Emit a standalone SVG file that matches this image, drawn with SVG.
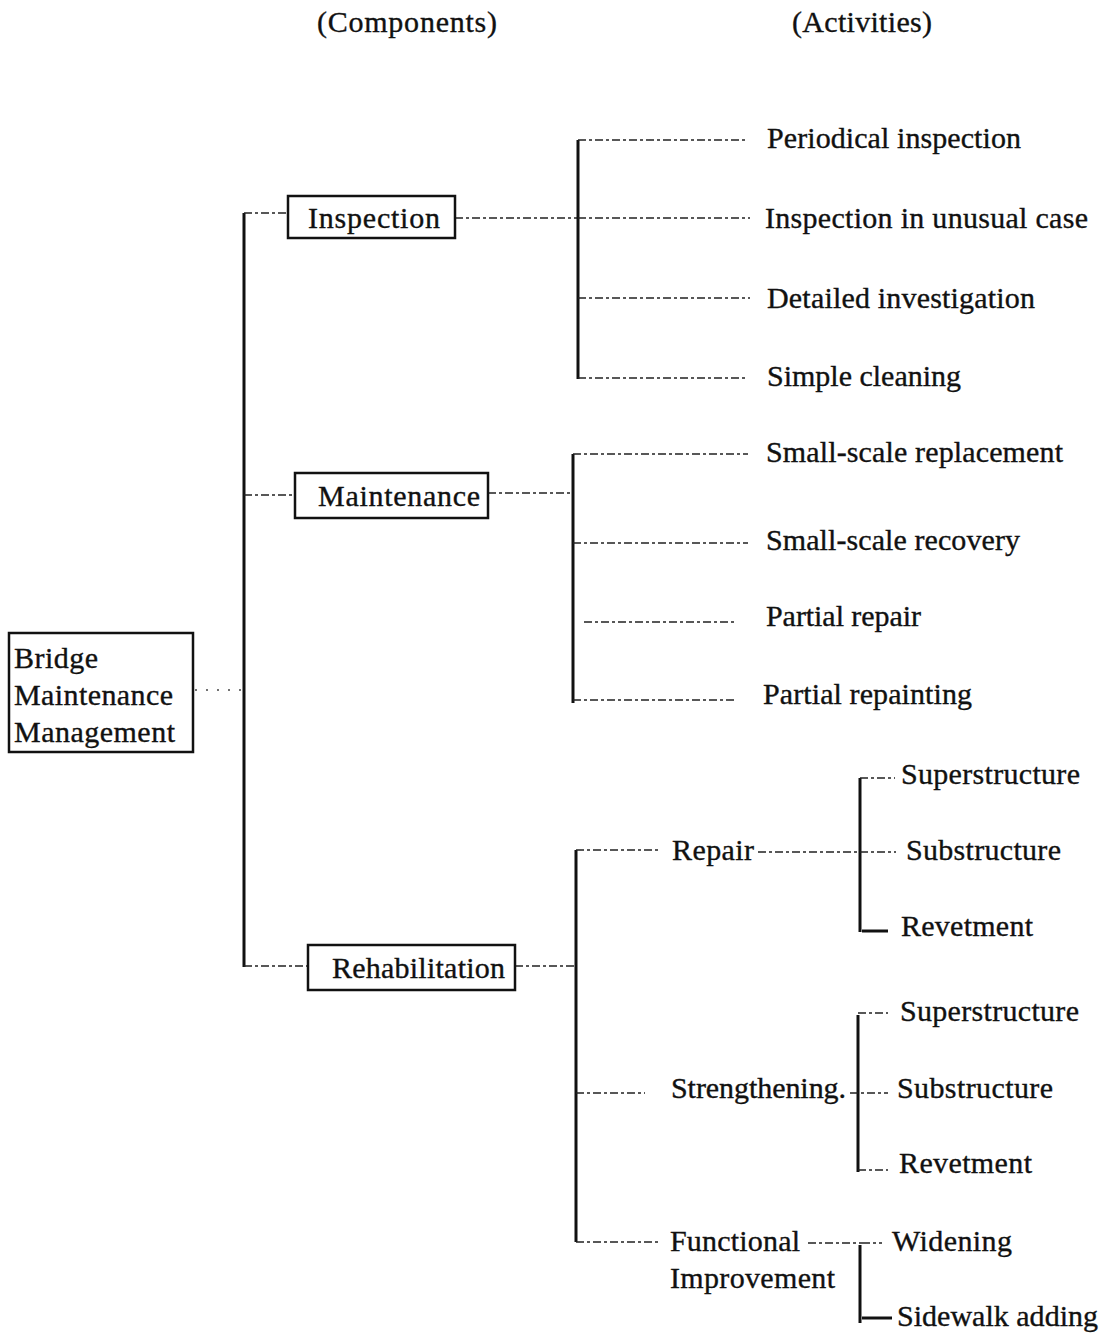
<svg xmlns="http://www.w3.org/2000/svg" width="1103" height="1336" viewBox="0 0 1103 1336">
<style>
text{font-family:"Liberation Serif","Times New Roman",serif;font-size:30px;fill:#111;stroke:#111;stroke-width:0.35}
.box{fill:#fff;stroke:#111;stroke-width:2.5}
.d{stroke:#222;stroke-width:1.6;stroke-dasharray:8 3 3 3;fill:none}
.s{stroke:#111;stroke-width:3;fill:none}
.dot{stroke:#444;stroke-width:1.5;stroke-dasharray:2 9;fill:none}
</style>
<rect width="1103" height="1336" fill="#fff"/>
<g id="headers">
<text x="317" y="32" textLength="180">(Components)</text>
<text x="792" y="32" textLength="140">(Activities)</text>
</g>
<g id="connectors">
<line class="dot" x1="195" y1="690" x2="244" y2="690"/>
<line class="s" x1="244" y1="213" x2="244" y2="967"/>
<line class="d" x1="244" y1="213" x2="288" y2="213"/>
<line class="d" x1="244" y1="495" x2="295" y2="495"/>
<line class="d" x1="244" y1="966" x2="308" y2="966"/>
<line class="d" x1="455" y1="218" x2="578" y2="218"/>
<line class="s" x1="578" y1="140" x2="578" y2="379"/>
<line class="d" x1="578" y1="140" x2="748" y2="140"/>
<line class="d" x1="578" y1="218" x2="750" y2="218"/>
<line class="d" x1="578" y1="298" x2="750" y2="298"/>
<line class="d" x1="578" y1="378" x2="748" y2="378"/>
<line class="d" x1="488" y1="493" x2="573" y2="493"/>
<line class="s" x1="573" y1="454" x2="573" y2="703"/>
<line class="d" x1="573" y1="454" x2="748" y2="454"/>
<line class="d" x1="573" y1="543" x2="748" y2="543"/>
<line class="d" x1="584" y1="622" x2="735" y2="622"/>
<line class="d" x1="573" y1="700" x2="735" y2="700"/>
<line class="d" x1="515" y1="966" x2="576" y2="966"/>
<line class="s" x1="576" y1="850" x2="576" y2="1242"/>
<line class="d" x1="576" y1="850" x2="660" y2="850"/>
<line class="d" x1="758" y1="852" x2="858" y2="852"/>
<line class="s" x1="860" y1="778" x2="860" y2="932"/>
<line class="d" x1="860" y1="778" x2="895" y2="778"/>
<line class="d" x1="860" y1="852" x2="896" y2="852"/>
<line class="s" x1="862" y1="931" x2="888" y2="931"/>
<line class="d" x1="576" y1="1093" x2="645" y2="1093"/>
<line class="s" x1="858" y1="1015" x2="858" y2="1172"/>
<line class="d" x1="858" y1="1013" x2="888" y2="1013"/>
<line class="d" x1="850" y1="1093" x2="888" y2="1093"/>
<line class="d" x1="858" y1="1170" x2="888" y2="1170"/>
<line class="d" x1="576" y1="1242" x2="660" y2="1242"/>
<line class="d" x1="808" y1="1243" x2="862" y2="1243"/>
<line class="s" x1="860" y1="1245" x2="860" y2="1323"/>
<line class="d" x1="862" y1="1243" x2="882" y2="1243"/>
<line class="s" x1="862" y1="1318" x2="892" y2="1318"/>
</g>
<g id="root">
<rect class="box" x="9" y="633" width="184" height="119"/>
<text x="14" y="668" textLength="84">Bridge</text>
<text x="14" y="705" textLength="159">Maintenance</text>
<text x="14" y="742" textLength="161">Management</text>
</g>
<g id="inspection">
<rect class="box" x="288" y="196" width="167" height="42"/>
<text x="308" y="228" textLength="132">Inspection</text>
</g>
<g id="maintenance">
<rect class="box" x="295" y="473" width="193" height="45"/>
<text x="318" y="506" textLength="162">Maintenance</text>
</g>
<g id="rehabilitation">
<rect class="box" x="308" y="945" width="207" height="45"/>
<text x="332" y="978" textLength="173">Rehabilitation</text>
</g>
<g id="inspection-activities">
<text x="767" y="148" textLength="254">Periodical inspection</text>
<text x="765" y="228" textLength="323">Inspection in unusual case</text>
<text x="767" y="308" textLength="268">Detailed investigation</text>
<text x="767" y="386" textLength="194">Simple cleaning</text>
</g>
<g id="maintenance-activities">
<text x="766" y="462" textLength="297">Small-scale replacement</text>
<text x="766" y="550" textLength="254">Small-scale recovery</text>
<text x="766" y="626" textLength="155">Partial repair</text>
<text x="763" y="704" textLength="209">Partial repainting</text>
</g>
<g id="repair">
<text x="672" y="860" textLength="82">Repair</text>
<text x="901" y="784" textLength="179">Superstructure</text>
<text x="906" y="860" textLength="155">Substructure</text>
<text x="901" y="936" textLength="132">Revetment</text>
</g>
<g id="strengthening">
<text x="671" y="1098" textLength="175">Strengthening.</text>
<text x="900" y="1021" textLength="179">Superstructure</text>
<text x="897" y="1098" textLength="156">Substructure</text>
<text x="899" y="1173" textLength="133">Revetment</text>
</g>
<g id="functional">
<text x="670" y="1251" textLength="130">Functional</text>
<text x="670" y="1288" textLength="165">Improvement</text>
<text x="892" y="1251" textLength="120">Widening</text>
<text x="897" y="1326" textLength="201">Sidewalk adding</text>
</g>
</svg>
